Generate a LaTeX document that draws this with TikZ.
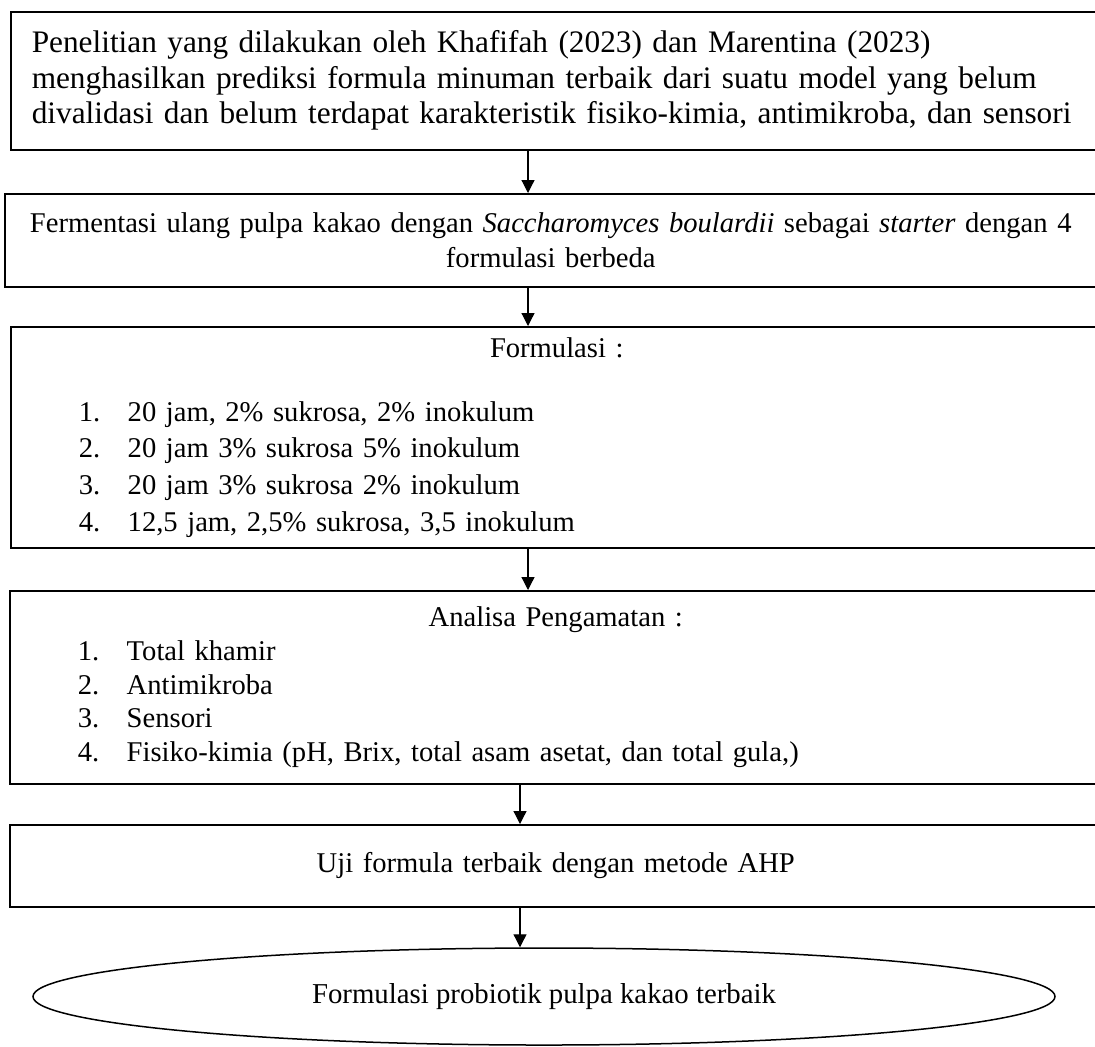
\documentclass[tikz,border=0pt]{standalone}
\usepackage{fontspec}
\setmainfont{Liberation Serif}
\usetikzlibrary{arrows.meta,shapes.geometric}
\newcommand{\itm}[2]{\makebox[\linewidth][l]{\hspace*{34pt}\makebox[24.5pt][l]{#1}#2}}
\begin{document}
\begin{tikzpicture}
[x=.5pt,y=-.5pt, b/.style={draw,line width=.75pt,anchor=north west,minimum width=546pt,inner xsep=0pt,inner ysep=0pt,font=\fontsize{14.3pt}{17.5pt}\selectfont},
ar/.style={line width=.6pt,-{Triangle[length=6.5pt,width=6.5pt]}}]
\useasboundingbox (0,0) rectangle (1095,1046);\clip (0,0) rectangle (1095,1046);
\node(p) at (10,11)[b,minimum height=69pt,text width=535pt,inner xsep=10.5pt,align=left,font=\fontsize{15.65pt}{17.75pt}\selectfont]{Penelitian yang dilakukan oleh Khafifah (2023) dan Marentina (2023)\\menghasilkan prediksi formula minuman terbaik dari suatu model yang belum\\divalidasi dan belum terdapat karakteristik fisiko-kimia, antimikroba, dan sensori};
\node(f) at (4,193)[b,minimum height=46.5pt,text width=540pt,inner xsep=3pt,align=center]{Fermentasi ulang pulpa kakao dengan \textit{Saccharomyces boulardii} sebagai \textit{starter} dengan 4\\formulasi berbeda};
\node(m) at (10,326)[b,minimum height=110.5pt,text width=546pt,align=center,font=\fontsize{14.3pt}{18.35pt}\selectfont]{Formulasi :\\[13.65pt]\itm{1.}{20 jam, 2\% sukrosa, 2\% inokulum}\\\itm{2.}{20 jam 3\% sukrosa 5\% inokulum}\\\itm{3.}{20 jam 3\% sukrosa 2\% inokulum}\\\itm{4.}{12,5 jam, 2,5\% sukrosa, 3,5 inokulum}};
\node(n) at (9,590)[b,minimum height=96.5pt,text width=546pt,align=center,font=\fontsize{14.3pt}{16.85pt}\selectfont]{Analisa Pengamatan :\\\itm{1.}{Total khamir}\\\itm{2.}{Antimikroba}\\\itm{3.}{Sensori}\\\itm{4.}{Fisiko-kimia (pH, Brix, total asam asetat, dan total gula,)}};
\node(u) at (9,824)[b,minimum height=41pt,text width=546pt,align=center]{\raisebox{3.5pt}{Uji formula terbaik dengan metode AHP}};
\node(h) at (544,996.5)[ellipse,draw,line width=.75pt,minimum width=511pt,minimum height=48.5pt,inner sep=0pt,font=\fontsize{14.4pt}{17.5pt}\selectfont]{Formulasi probiotik pulpa kakao terbaik};
\coordinate(c1) at (528,0);\coordinate(c2) at (520,0);
\draw[ar](p.south-|c1)--(f.north-|c1);\draw[ar](f.south-|c1)--(m.north-|c1);\draw[ar](m.south-|c1)--(n.north-|c1);
\draw[ar](n.south-|c2)--(u.north-|c2);\draw[ar](u.south-|c2)--(h.north-|c2);
\end{tikzpicture}
\end{document}
